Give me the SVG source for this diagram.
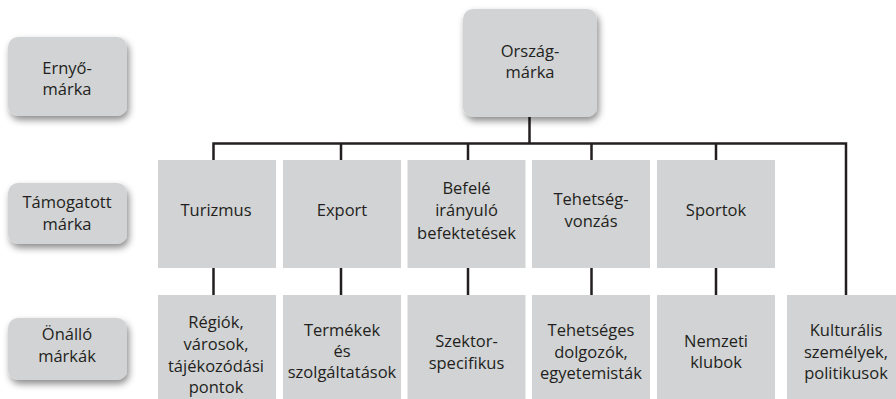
<svg xmlns="http://www.w3.org/2000/svg" width="896" height="399" viewBox="0 0 896 399">
<defs>
<filter id="sh" x="-20%" y="-20%" width="150%" height="150%">
<feDropShadow dx="2" dy="4" stdDeviation="3.5" flood-color="#000" flood-opacity="0.45"/>
</filter>
<style>
.box{fill:#d1d3d4}
.rbox{fill:#d1d3d4;filter:url(#sh)}
text{font-family:"Open Sans","Liberation Sans",sans-serif;font-size:16.5px;fill:#231f20;text-anchor:middle}
.ln{fill:none;stroke:#231f20;stroke-width:2.5}
</style>
</defs>
<rect width="896" height="399" fill="#fff"/>
<g id="connectors">
<path class="ln" d="M213.5 160V143.5H846V295"/>
<path class="ln" d="M529.5 117V143.5"/>
<path class="ln" d="M341 143.5V160M468 143.5V160M591.5 143.5V160M716 143.5V160"/>
<path class="ln" d="M213.5 268V295M341 268V295M468 268V295M591.5 268V295M716 268V295"/>
</g>
<g id="ernyo">
<rect class="rbox" x="8" y="37" width="119" height="79" rx="10"/>
<text x="67" y="74">Ernyő-</text><text x="67" y="95">márka</text>
</g>
<g id="tamogatott">
<rect class="rbox" x="8" y="183" width="119" height="61" rx="10"/>
<text x="67" y="208">Támogatott</text><text x="67" y="229.5">márka</text>
</g>
<g id="onallo">
<rect class="rbox" x="8" y="318" width="119" height="62" rx="10"/>
<text x="67" y="340">Önálló</text><text x="67" y="361.5">márkák</text>
</g>
<g id="orszag">
<rect class="rbox" x="463" y="9" width="134" height="108" rx="10"/>
<text x="530" y="56.5">Ország-</text><text x="530" y="78">márka</text>
</g>
<g id="turizmus">
<rect class="box" x="158" y="160" width="118" height="108"/>
<text x="216" y="216">Turizmus</text>
</g>
<g id="export">
<rect class="box" x="283" y="160" width="118" height="108"/>
<text x="342" y="216">Export</text>
</g>
<g id="befele">
<rect class="box" x="407.5" y="160" width="118" height="108"/>
<text x="466.5" y="193.5">Befelé</text><text x="466.5" y="216">irányuló</text><text x="466.5" y="238.5">befektetések</text>
</g>
<g id="tehetsegvonzas">
<rect class="box" x="532" y="160" width="118" height="108"/>
<text x="591" y="205">Tehetség-</text><text x="591" y="227">vonzás</text>
</g>
<g id="sportok">
<rect class="box" x="657" y="160" width="118" height="108"/>
<text x="716" y="216">Sportok</text>
</g>
<g id="regiok">
<rect class="box" x="158" y="295" width="118" height="108"/>
<text x="216" y="327.5">Régiók,</text><text x="216" y="349.5">városok,</text><text x="216" y="371.5">tájékozódási</text><text x="216" y="393">pontok</text>
</g>
<g id="termekek">
<rect class="box" x="283" y="295" width="118" height="108"/>
<text x="342" y="336">Termékek</text><text x="342" y="357">és</text><text x="342" y="378">szolgáltatások</text>
</g>
<g id="szektor">
<rect class="box" x="407.5" y="295" width="118" height="108"/>
<text x="466.5" y="347">Szektor-</text><text x="466.5" y="368.5">specifikus</text>
</g>
<g id="tehetseges">
<rect class="box" x="532" y="295" width="118" height="108"/>
<text x="591" y="336">Tehetséges</text><text x="591" y="357.5">dolgozók,</text><text x="591" y="379">egyetemisták</text>
</g>
<g id="nemzeti">
<rect class="box" x="657" y="295" width="118" height="108"/>
<text x="716" y="346.5">Nemzeti</text><text x="716" y="368">klubok</text>
</g>
<g id="kulturalis">
<rect class="box" x="787" y="295" width="118" height="108"/>
<text x="846" y="336">Kulturális</text><text x="846" y="357.5">személyek,</text><text x="846" y="379">politikusok</text>
</g>
</svg>
